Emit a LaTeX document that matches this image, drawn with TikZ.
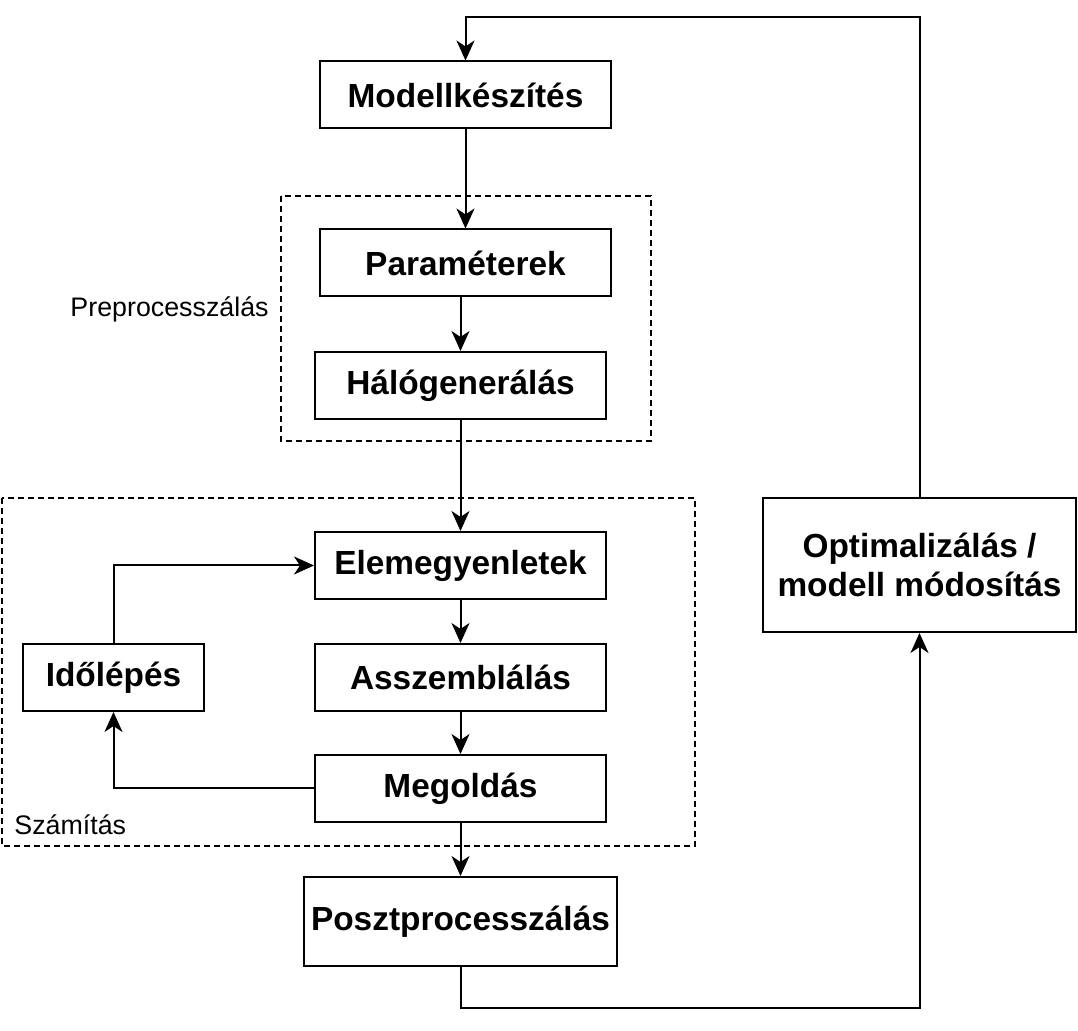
\documentclass[tikz,border=0pt]{standalone}
\usepackage{fontspec}
\setmainfont{Liberation Sans}
\usetikzlibrary{arrows.meta}

\tikzstyle{stepBox}=[draw, line width=1pt, inner sep=0pt, minimum width=145.5pt, minimum height=33.5pt, font=\fontsize{16.7}{19.5}\selectfont\bfseries, align=center]
\tikzstyle{groupBox}=[draw, line width=0.8pt, dash pattern=on 3pt off 2pt]
\tikzstyle{groupLabel}=[inner sep=0pt, font=\fontsize{13.4}{16}\selectfont]
\tikzstyle{flowArrow}=[line width=1pt, -{Stealth[length=10pt, width=9pt, inset=3pt]}]

\begin{document}
\begin{tikzpicture}[x=0.5pt, y=-0.5pt]
                \useasboundingbox (0,0) rectangle (1078,1031);
                % groups
                \draw[groupBox] (281,196) rectangle (651,441);
                \draw[groupBox] (2,498) rectangle (695,846);
                \node[groupLabel, anchor=east] (preLabel) at (269,309) {Preprocesszálás};
                \node[groupLabel, anchor=west] (calcLabel) at (14,825) {Számítás};
                % steps
                \node[stepBox] (modell) at (465.5,95) {Modellkészítés};
                \node[stepBox] (param) at (465.5,263) {Paraméterek};
                \node[stepBox] (halo) at (460.5,385.5) {Hálógenerálás};
                \node[stepBox] (elem) at (460.5,565.5) {Elemegyenletek};
                \node[stepBox] (assz) at (460.5,677.5) {Asszemblálás};
                \node[stepBox] (megold) at (460.5,788.5) {Megoldás};
                \node[stepBox, minimum width=90.5pt] (idolep) at (113.5,677.5) {Időlépés};
                \node[stepBox, minimum width=156.5pt, minimum height=44.5pt] (poszt) at (460.5,921.5) {Posztprocesszálás};
                \node[stepBox, minimum width=156.5pt, minimum height=67pt] (opt) at (919.5,565) {Optimalizálás /\\modell módosítás};
                \coordinate (low) at (0,1008);
                \coordinate (high) at (0,17);
                % connectors
                \draw[flowArrow] (modell) -- (param);
                \draw[flowArrow] (param.south -| halo) -- (halo);
                \draw[flowArrow] (halo) -- (elem);
                \draw[flowArrow] (elem) -- (assz);
                \draw[flowArrow] (assz) -- (megold);
                \draw[flowArrow] (megold) -- (poszt);
                \draw[flowArrow] (megold.west) -| (idolep.south);
                \draw[flowArrow] (idolep.north) |- (elem.west);
                \draw[flowArrow] (poszt.south) -- (poszt.south |- low) -| (opt.south);
                \draw[flowArrow] (opt.north) -- (opt.north |- high) -| (modell.north);
\end{tikzpicture}
\end{document}
